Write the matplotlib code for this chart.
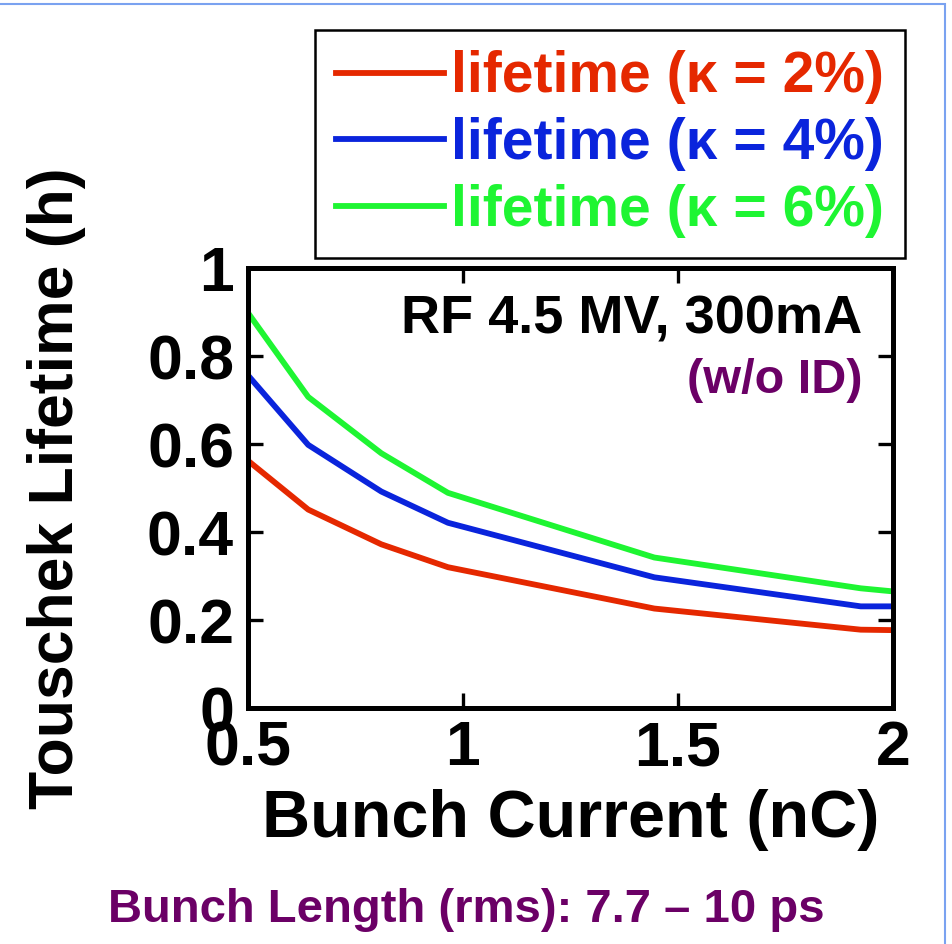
import matplotlib

matplotlib.use("Agg")
import matplotlib.pyplot as plt
from matplotlib.patches import Rectangle

# Bunch charge (nC) and Touschek lifetime (h) for three coupling values
bunch_charge = [0.5, 0.64, 0.81, 0.965, 1.445, 1.925, 2.0]
lifetime_k2 = [0.562, 0.451, 0.372, 0.320, 0.226, 0.178, 0.177]
lifetime_k4 = [0.756, 0.598, 0.492, 0.421, 0.297, 0.231, 0.231]
lifetime_k6 = [0.898, 0.707, 0.579, 0.489, 0.342, 0.272, 0.265]
series_labels = ["lifetime (κ = 2%)", "lifetime (κ = 4%)", "lifetime (κ = 6%)"]
series_colors = ["#e52800", "#0a24dc", "#1ef532"]

x_ticks = [0.5, 1, 1.5, 2]
x_tick_labels = ["0.5", "1", "1.5", "2"]
y_ticks = [0, 0.2, 0.4, 0.6, 0.8, 1]
y_tick_labels = ["0", "0.2", "0.4", "0.6", "0.8", "1"]

PURPLE = "#6b0066"
W, H = 953, 944

plt.rcParams["font.family"] = ["Liberation Sans", "DejaVu Sans"]
plt.rcParams["font.weight"] = "bold"

fig = plt.figure(figsize=(W / 100, H / 100), dpi=100)
ax = fig.add_axes([248 / W, 1 - 708 / H, (893 - 248) / W, (708 - 268) / H])

for ys, lab, col in zip([lifetime_k2, lifetime_k4, lifetime_k6], series_labels, series_colors):
    ax.plot(bunch_charge, ys, color=col, lw=4.2, label=lab)

ax.set_xlim(0.5, 2.0)
ax.set_ylim(0, 1.0)
ax.set_xticks(x_ticks, x_tick_labels)
ax.set_yticks(y_ticks, y_tick_labels)
ax.tick_params(direction="in", top=True, right=True, length=11, width=2.4,
               labelsize=45)
ax.tick_params(axis="y", pad=10)
ax.tick_params(axis="x", pad=8)
for sp in ax.spines.values():
    sp.set_linewidth(3.6)

ax.set_xlabel("Bunch Current (nC)", fontsize=48, fontweight="bold", labelpad=8)
ax.set_ylabel("Touschek Lifetime (h)", fontsize=45, fontweight="bold", labelpad=44)

ax.text(0.952, 0.882, "RF 4.5 MV, 300mA", transform=ax.transAxes, ha="right",
        va="center", fontsize=39, fontweight="bold", color="black")
ax.text(0.952, 0.745, "(w/o ID)", transform=ax.transAxes, ha="right",
        va="center", fontsize=35, fontweight="bold", color=PURPLE)

leg = ax.legend(loc="upper right", bbox_to_anchor=(905 / W, 1 - 30 / H),
                bbox_transform=fig.transFigure, borderaxespad=0,
                fancybox=False, edgecolor="black", framealpha=1,
                fontsize=41, labelcolor="linecolor", handlelength=1.9,
                handletextpad=0.13, labelspacing=0.22, borderpad=0.36)
leg.get_frame().set_linewidth(1.8)
for line in leg.get_lines():
    line.set_linewidth(4.2)
for t in leg.get_texts():
    t.set_fontweight("bold")

fig.text(108 / W, 1 - 910 / H, "Bunch Length (rms): 7.7 – 10 ps", ha="left",
         va="center", fontsize=34, fontweight="bold", color=PURPLE)

# thin light-blue slide frame along the top and right edges
fig.patches.append(Rectangle((-0.02, -0.02), 945 / W + 0.02, 1 - 4 / H + 0.02,
                             transform=fig.transFigure, fill=False,
                             edgecolor="#7aa2f0", lw=1.5))

fig.savefig("out.png", dpi=100)
